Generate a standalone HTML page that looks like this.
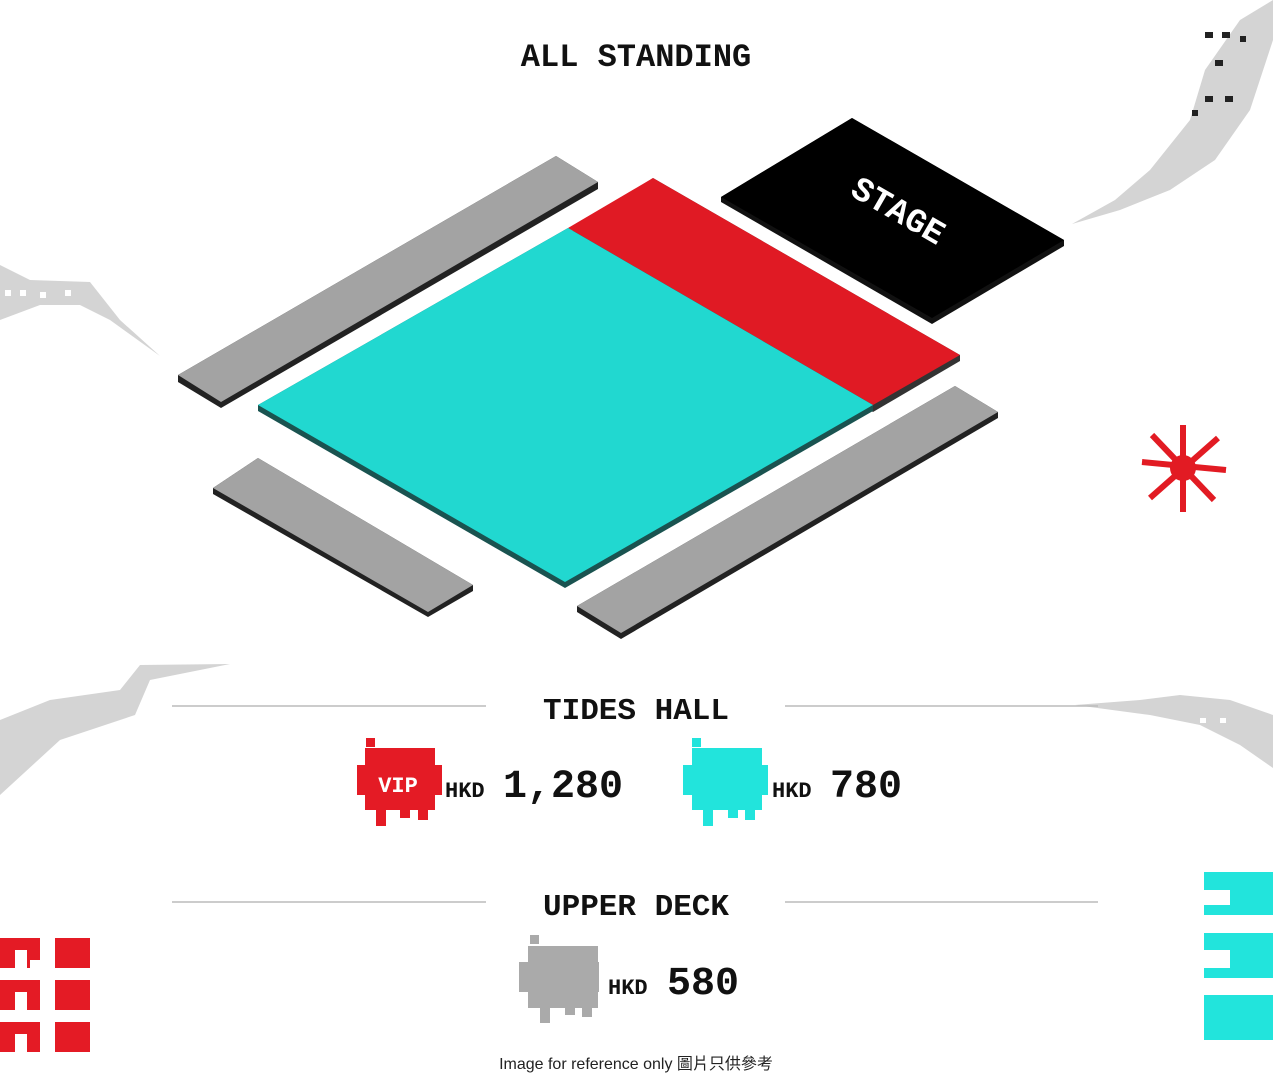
<!DOCTYPE html>
<html><head><meta charset="utf-8"><style>
html,body{margin:0;padding:0;background:#fff;width:1273px;height:1084px;overflow:hidden}
svg{display:block}
.t{font-family:"Liberation Mono","DejaVu Sans Mono",monospace;font-weight:bold;fill:#111}
</style></head><body>
<svg width="1273" height="1084" viewBox="0 0 1273 1084" xmlns="http://www.w3.org/2000/svg">
<!-- background decorations -->
<g fill="#d4d4d4">
<polygon points="1273,0 1273,40 1250,110 1215,160 1170,190 1120,210 1072,224 1115,200 1150,170 1190,120 1205,70 1240,20"/>
<polygon points="0,265 30,280 90,282 120,320 160,356 110,320 80,305 40,305 0,320"/>
<polygon points="0,720 50,700 120,690 140,665 230,664 150,680 135,715 60,740 0,795"/>
<polygon points="1075,705 1140,700 1180,695 1230,700 1273,715 1273,768 1240,745 1200,725 1150,715"/>
</g>
<g fill="#222"><rect x="1205" y="32" width="8" height="6"/><rect x="1222" y="32" width="8" height="6"/><rect x="1240" y="36" width="6" height="6"/><rect x="1215" y="60" width="8" height="6"/><rect x="1205" y="96" width="8" height="6"/><rect x="1225" y="96" width="8" height="6"/><rect x="1192" y="110" width="6" height="6"/></g>
<g fill="#fff"><rect x="5" y="290" width="6" height="6"/><rect x="20" y="290" width="6" height="6"/><rect x="40" y="292" width="6" height="6"/><rect x="65" y="290" width="6" height="6"/><rect x="1200" y="718" width="6" height="5"/><rect x="1220" y="718" width="6" height="5"/></g>
<!-- red asterisk -->
<g stroke="#e21b23" stroke-width="6" fill="none">
<line x1="1183" y1="425" x2="1183" y2="512"/><line x1="1142" y1="462" x2="1226" y2="470"/>
<line x1="1152" y1="435" x2="1214" y2="500"/><line x1="1218" y1="438" x2="1150" y2="498"/>
</g>
<circle cx="1183" cy="468" r="13" fill="#e21b23"/>
<!-- bottom-left red blocks -->
<g fill="#e41b25">
<polygon points="0,938 40,938 40,960 30,960 30,968 0,968"/><rect x="55" y="938" width="35" height="30"/>
<polygon points="0,980 40,980 40,1010 0,1010"/><rect x="55" y="980" width="35" height="30"/>
<polygon points="0,1022 40,1022 40,1052 0,1052"/><rect x="55" y="1022" width="35" height="30"/>
</g>
<g fill="#fff"><rect x="15" y="950" width="12" height="18"/><rect x="15" y="992" width="12" height="18"/><rect x="15" y="1034" width="12" height="18"/></g>
<!-- bottom-right cyan -->
<g fill="#22e4dc">
<polygon points="1204,872 1273,872 1273,915 1204,915 1204,905 1230,905 1230,890 1204,890"/>
<polygon points="1204,933 1273,933 1273,978 1204,978 1204,968 1230,968 1230,950 1204,950"/>
<polygon points="1204,995 1273,995 1273,1040 1204,1040"/>
</g>
<!-- seating map -->
<g>
<polygon points="556,156 598,182 598,189 221,408 178,382 178,375" fill="#222"/>
<polygon points="556,156 598,182 221,402 178,375" fill="#a3a3a3"/>
<polygon points="258,458 473,585 473,591 428,617 213,494 213,488" fill="#222"/>
<polygon points="258,458 473,585 428,612 213,488" fill="#a3a3a3"/>
<polygon points="955,386 998,412 998,418 621,639 577,612 577,606" fill="#222"/>
<polygon points="955,386 998,412 621,633 577,606" fill="#a3a3a3"/>
<polygon points="852,118 1064,240 1064,246 932,324 721,202 721,197" fill="#111"/>
<polygon points="852,118 1064,240 932,318 721,197" fill="#000"/>
<polygon points="653,178 960,355 960,361 873,412 568,234" fill="#333"/>
<polygon points="653,178 960,355 873,405 568,228" fill="#e01a24"/>
<polygon points="568,228 873,405 873,411 565,588 258,411 258,405" fill="#1a5350"/>
<polygon points="568,228 873,405 565,582 258,405" fill="#21d8d0"/>
<text class="t" x="0" y="0" font-size="34" fill="#fff" style="fill:#fff" transform="translate(893,220) rotate(30)" text-anchor="middle">STAGE</text>
</g>
<text class="t" x="636" y="66" font-size="32" text-anchor="middle">ALL STANDING</text>
<line x1="172" y1="706" x2="486" y2="706" stroke="#bbb" stroke-width="1.5"/>
<line x1="785" y1="706" x2="1098" y2="706" stroke="#bbb" stroke-width="1.5"/>
<text class="t" x="636" y="719" font-size="31" text-anchor="middle">TIDES HALL</text>
<line x1="172" y1="902" x2="486" y2="902" stroke="#bbb" stroke-width="1.5"/>
<line x1="785" y1="902" x2="1098" y2="902" stroke="#bbb" stroke-width="1.5"/>
<text class="t" x="636" y="915" font-size="31" text-anchor="middle">UPPER DECK</text>
<!-- splats -->
<g fill="#e41b25"><rect x="366" y="738" width="9" height="9"/><rect x="365" y="748" width="70" height="62"/><rect x="357" y="765" width="85" height="30"/><rect x="376" y="808" width="10" height="18"/><rect x="400" y="808" width="10" height="10"/><rect x="418" y="808" width="10" height="12"/></g>
<text x="398" y="792" font-family="Liberation Mono,monospace" font-weight="bold" font-size="22" fill="#fff" text-anchor="middle">VIP</text>
<g fill="#22e4dc"><rect x="692" y="738" width="9" height="9"/><rect x="692" y="748" width="70" height="62"/><rect x="683" y="765" width="85" height="30"/><rect x="703" y="808" width="10" height="18"/><rect x="728" y="808" width="10" height="10"/><rect x="745" y="808" width="10" height="12"/></g>
<g fill="#aaa"><rect x="530" y="935" width="9" height="9"/><rect x="528" y="946" width="70" height="62"/><rect x="519" y="962" width="80" height="30"/><rect x="540" y="1005" width="10" height="18"/><rect x="565" y="1005" width="10" height="10"/><rect x="582" y="1005" width="10" height="12"/></g>
<text class="t" x="445" y="797" font-size="22">HKD</text>
<text class="t" x="503" y="797" font-size="40">1,280</text>
<text class="t" x="772" y="797" font-size="22">HKD</text>
<text class="t" x="830" y="797" font-size="40">780</text>
<text class="t" x="608" y="994" font-size="22">HKD</text>
<text class="t" x="667" y="994" font-size="40">580</text>
<text x="636" y="1069" font-family="Liberation Sans,'Noto Sans CJK TC',sans-serif" font-size="16" fill="#222" text-anchor="middle">Image for reference only 圖片只供參考</text>
</svg>
</body></html>
